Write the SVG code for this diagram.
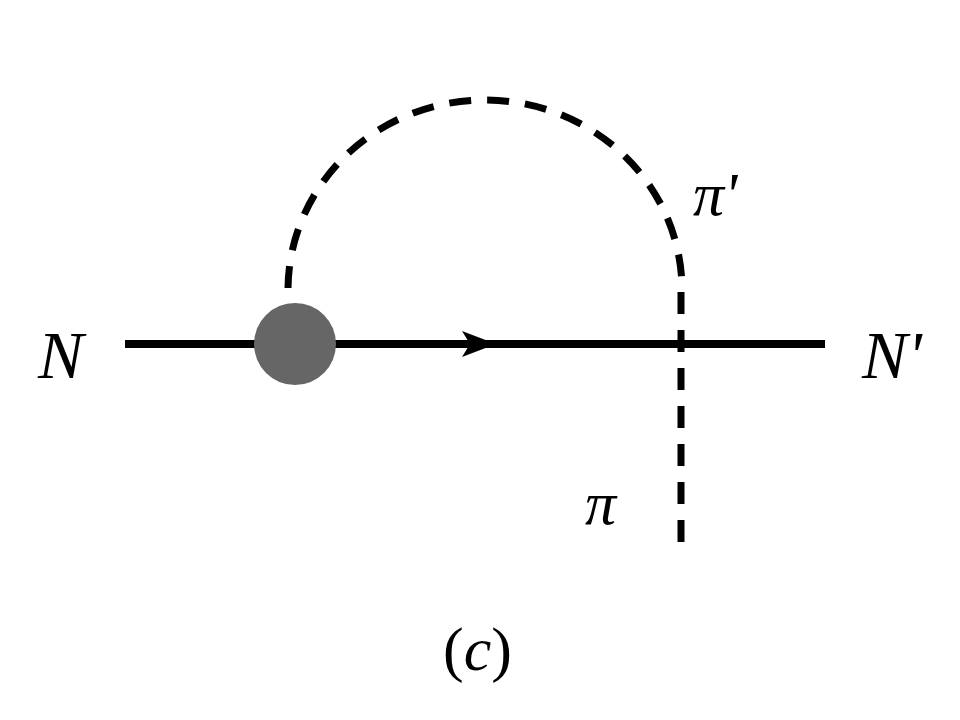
<svg xmlns="http://www.w3.org/2000/svg" width="960" height="720" viewBox="0 0 960 720">
<style>
.t{font-style:italic;fill:#000}
.d{fill:none;stroke:#000;stroke-width:7;stroke-dasharray:22,16}
</style>
<rect width="960" height="720" fill="#fff"/>
<g id="connectors">
<line x1="125" y1="344" x2="825" y2="344" stroke="#000" stroke-width="8"/>
<path d="M462,331 L496,344 L462,357 L470,344 Z" fill="#000"/>
<path class="d" d="M288,288 A197,190 0 0 1 682,292"/>
<path class="d" d="M681,292 L681,546"/>
</g>
<g id="vertex"><circle cx="295" cy="344" r="41" fill="#666"/></g>
<g id="labels" font-family="Liberation Serif, Times New Roman, DejaVu Serif, serif">
<text class="t" x="38" y="378" font-size="68">N</text>
<text class="t" x="862" y="378" font-size="68">N'</text>
<text class="t" x="693" y="215" font-size="62">π'</text>
<text class="t" x="585" y="524" font-size="62">π</text>
<text x="443" y="670" font-size="62">(<tspan font-style="italic">c</tspan>)</text>
</g>
</svg>
